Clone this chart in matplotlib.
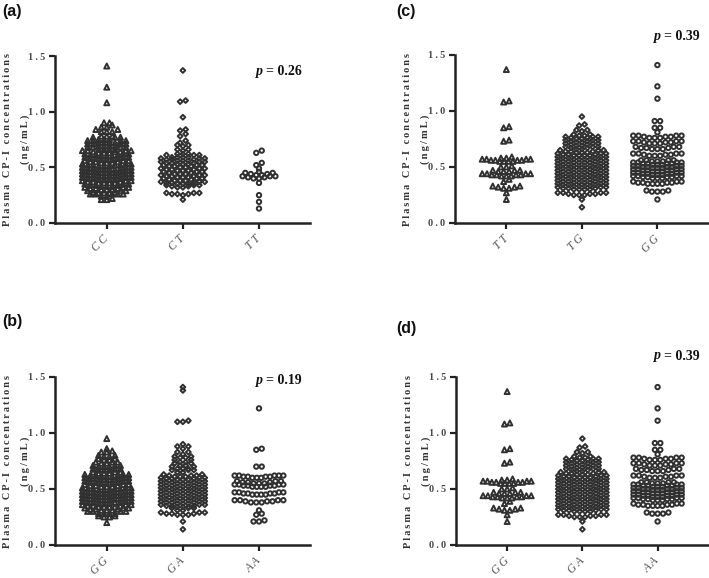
import numpy as np
import matplotlib
matplotlib.use('Agg')
import matplotlib.pyplot as plt

# ---- data (value levels and how many points sit at each) ----
a_labels = ['CC', 'CT', 'TT']
a_cc_vals = [0.21, 0.22, 0.24, 0.26, 0.27, 0.29,
             0.30, 0.31, 0.32, 0.33, 0.34, 0.35, 0.36, 0.37, 0.38, 0.39,
             0.40, 0.41, 0.42, 0.43, 0.44, 0.45, 0.46, 0.47, 0.48, 0.49,
             0.50, 0.51, 0.52, 0.53, 0.54, 0.55, 0.56, 0.57, 0.58, 0.59,
             0.60, 0.61, 0.62, 0.63, 0.64, 0.65, 0.66, 0.68, 0.69,
             0.71, 0.72, 0.74, 0.75, 0.77, 0.78, 0.82, 0.84, 0.86, 0.88,
             0.90, 1.08, 1.22, 1.41]
a_cc_counts = [2, 1, 2, 5, 5, 3,
               3, 3, 3, 3, 3, 3, 4, 3, 3, 4,
               3, 3, 4, 3, 3, 4, 3, 3, 4, 3,
               3, 3, 4, 3, 3, 3, 3, 3, 3, 3,
               3, 3, 3, 3, 3, 4, 4, 4, 4,
               4, 4, 4, 3, 3, 3, 3, 2, 2, 1,
               2, 1, 1, 1]
a_ct_vals = [0.21, 0.25, 0.26, 0.27, 0.32, 0.33, 0.34, 0.35, 0.36, 0.37,
             0.38, 0.39, 0.40, 0.41, 0.42, 0.43, 0.44, 0.45, 0.46, 0.47,
             0.48, 0.49, 0.50, 0.51, 0.52, 0.53, 0.54, 0.55, 0.56, 0.57,
             0.58, 0.59, 0.61, 0.62, 0.65, 0.66, 0.69, 0.70, 0.72, 0.74,
             0.78, 0.80, 0.83, 0.84, 0.95, 1.09, 1.10, 1.37]
a_ct_counts = [1, 1, 3, 3, 2, 2, 3, 3, 3, 3,
               3, 2, 3, 3, 3, 3, 3, 2, 3, 3,
               3, 3, 2, 3, 3, 3, 3, 3, 3, 3,
               3, 4, 3, 3, 1, 2, 1, 2, 1, 1,
               1, 1, 1, 1, 1, 1, 1, 1]
a_tt_vals = [0.13, 0.19, 0.25, 0.36, 0.40, 0.41, 0.42, 0.43, 0.44, 0.45,
             0.46, 0.49, 0.52, 0.54, 0.63, 0.65]
a_tt_counts = [1, 1, 1, 1, 2, 2, 3, 2, 2, 2,
               1, 1, 1, 1, 1, 1]

b_labels = ['GG', 'GA', 'AA']
b_gg_vals = [0.20, 0.25, 0.26, 0.28, 0.30, 0.31, 0.32, 0.33, 0.34, 0.35,
             0.36, 0.37, 0.38, 0.39, 0.40, 0.41, 0.42, 0.43, 0.44, 0.45,
             0.46, 0.47, 0.48, 0.49, 0.50, 0.51, 0.52, 0.53, 0.54, 0.55,
             0.56, 0.57, 0.58, 0.59, 0.60, 0.61, 0.62, 0.63, 0.64, 0.65,
             0.67, 0.68, 0.70, 0.71, 0.73, 0.74, 0.76, 0.77, 0.79, 0.80,
             0.83, 0.84, 0.86, 0.95]
b_gg_counts = [1, 2, 2, 4, 4, 3, 3, 3, 4, 3,
               3, 3, 4, 3, 3, 4, 3, 3, 4, 3,
               3, 4, 3, 3, 4, 3, 3, 3, 3, 3,
               3, 3, 3, 3, 3, 3, 3, 3, 3, 3,
               3, 3, 3, 3, 2, 3, 2, 2, 2, 2,
               2, 1, 1, 1]
b_ga_vals = [0.14, 0.21, 0.27, 0.28, 0.29, 0.31, 0.33, 0.34, 0.35, 0.36,
             0.37, 0.38, 0.39, 0.40, 0.41, 0.42, 0.43, 0.44, 0.45, 0.46,
             0.47, 0.48, 0.49, 0.50, 0.51, 0.52, 0.53, 0.54, 0.55, 0.56,
             0.57, 0.58, 0.59, 0.60, 0.61, 0.62, 0.63, 0.65, 0.67, 0.68,
             0.70, 0.71, 0.73, 0.74, 0.76, 0.78, 0.79, 0.81, 0.83, 0.86,
             0.88, 0.90, 1.10, 1.11, 1.38, 1.41]
b_ga_counts = [1, 1, 3, 3, 3, 2, 3, 3, 3, 3,
               3, 3, 3, 3, 3, 3, 3, 3, 3, 3,
               3, 3, 3, 3, 3, 3, 3, 3, 3, 3,
               3, 3, 3, 3, 3, 3, 2, 2, 3, 3,
               2, 2, 2, 2, 2, 2, 2, 1, 2, 1,
               2, 1, 2, 1, 1, 1]
b_aa_vals = [0.21, 0.22, 0.27, 0.28, 0.31, 0.38, 0.39, 0.40, 0.45, 0.46,
             0.47, 0.52, 0.53, 0.54, 0.55, 0.56, 0.57, 0.60, 0.61, 0.62,
             0.70, 0.85, 0.86, 1.22]
b_aa_counts = [2, 1, 1, 1, 1, 3, 3, 4, 4, 4,
               4, 4, 4, 4, 3, 3, 3, 3, 4, 5,
               2, 1, 1, 1]

c_labels = ['TT', 'TG', 'GG']
c_tt_vals = [0.21, 0.27, 0.31, 0.32, 0.33, 0.37, 0.39, 0.42, 0.43, 0.44,
             0.46, 0.47, 0.50, 0.51, 0.55, 0.56, 0.57, 0.58, 0.59, 0.73,
             0.74, 0.85, 0.86, 1.08, 1.09, 1.37]
c_tt_counts = [1, 1, 2, 2, 2, 1, 1, 3, 4, 4,
               3, 3, 2, 1, 4, 4, 4, 2, 1, 1,
               1, 1, 1, 1, 1, 1]
c_tg_vals = [0.14, 0.21, 0.25, 0.26, 0.27, 0.30, 0.31, 0.32, 0.33, 0.34,
             0.35, 0.36, 0.37, 0.38, 0.39, 0.40, 0.41, 0.42, 0.43, 0.44,
             0.45, 0.46, 0.47, 0.48, 0.49, 0.50, 0.51, 0.52, 0.53, 0.54,
             0.55, 0.56, 0.57, 0.58, 0.59, 0.60, 0.61, 0.62, 0.63, 0.64,
             0.65, 0.66, 0.67, 0.68, 0.69, 0.70, 0.71, 0.72, 0.73, 0.74,
             0.75, 0.76, 0.77, 0.78, 0.79, 0.82, 0.83, 0.87, 0.88, 0.95]
c_tg_counts = [1, 1, 3, 3, 4, 4, 3, 3, 4, 3,
               3, 4, 3, 3, 4, 3, 3, 4, 3, 3,
               4, 3, 3, 4, 3, 3, 4, 3, 3, 4,
               3, 3, 4, 3, 3, 4, 3, 3, 3, 3,
               3, 2, 2, 3, 2, 2, 3, 2, 2, 3,
               2, 2, 3, 2, 2, 1, 2, 1, 1, 1]
c_gg_vals = [0.21, 0.28, 0.29, 0.35, 0.36, 0.37, 0.40, 0.41, 0.42, 0.43,
             0.44, 0.45, 0.46, 0.47, 0.48, 0.49, 0.50, 0.51, 0.52, 0.53,
             0.54, 0.55, 0.56, 0.60, 0.61, 0.62, 0.66, 0.67, 0.68, 0.71,
             0.72, 0.73, 0.76, 0.77, 0.78, 0.81, 0.85, 0.91, 1.11, 1.22,
             1.41]
c_gg_counts = [1, 3, 2, 4, 4, 3, 3, 4, 4, 3,
               4, 4, 3, 4, 4, 3, 4, 4, 3, 4,
               4, 3, 4, 3, 3, 4, 3, 3, 3, 3,
               3, 4, 3, 3, 4, 1, 2, 2, 1, 1,
               1]

# panel (d) shows the same measurements as (c) under other genotype names
d_labels = ['GG', 'GA', 'AA']

p_values = {'a': '0.26', 'b': '0.19', 'c': '0.39', 'd': '0.39'}

SERIF = ['Liberation Serif', 'DejaVu Serif']
THIN = '\u2009'
EDGE = '#303030'
W, H = 709, 578


def spaced(s):
    return THIN.join(s)


def swarm(vals, counts, h=0.03, dx=0.072, max_span=0.64):
    v = np.sort(np.repeat(vals, counts).astype(float))
    xs, ys = [], []
    i = 0
    while i < len(v):
        j = i
        while j < len(v) and v[j] - v[i] < h - 1e-9:
            j += 1
        row = v[i:j]
        n = len(row)
        step = dx if (n - 1) * dx <= max_span else max_span / (n - 1)
        offs = (np.arange(n) - (n - 1) / 2) * step
        order = np.argsort(np.abs(offs), kind='stable')
        for k, idx in enumerate(order):
            xs.append(offs[idx])
            ys.append(row[k])
        i = j
    return np.array(xs), np.array(ys)


def rect(l, t, r, b):
    return [l / W, 1 - b / H, (r - l) / W, (b - t) / H]


def draw_panel(fig, box, groups, labels, letter, pval, p_xy, letter_xy):
    ax = fig.add_axes(rect(*box))
    markers = [('^', 13), ('D', 6), ('o', 10)]
    for pos, (vals, counts) in enumerate(groups):
        xs, ys = swarm(vals, counts)
        mk, size = markers[pos]
        ax.scatter(xs + pos, ys, marker=mk, s=size, facecolors='none',
                   edgecolors=EDGE, linewidths=1.4, clip_on=False, zorder=3)
    ax.set_xlim(-0.68, 2.67)
    ax.set_ylim(0, 1.5)
    for side in ('top', 'right'):
        ax.spines[side].set_visible(False)
    for side in ('left', 'bottom'):
        ax.spines[side].set_linewidth(1.8)
        ax.spines[side].set_color('#222222')
    ax.set_yticks([0, 0.5, 1.0, 1.5])
    ax.set_yticklabels([spaced('%.1f' % t) for t in [0, 0.5, 1.0, 1.5]],
                       family=SERIF, fontweight='bold', fontsize=7.5,
                       color='#4a4a4a')
    ax.set_xticks([0, 1, 2])
    ax.set_xticklabels([spaced(s) for s in labels], family=SERIF,
                       style='italic', fontsize=8.5, color='#555555',
                       rotation=45, ha='right', va='center',
                       rotation_mode='anchor')
    ax.tick_params(axis='both', direction='out', length=4, width=1.6,
                   color='#222222')
    ax.tick_params(axis='y', pad=3)
    ax.tick_params(axis='x', pad=6)

    ax.text(-0.188, 0.5, spaced('Plasma CP-I concentrations'),
            transform=ax.transAxes, rotation=90, ha='center', va='center',
            family=SERIF, fontweight='bold', fontsize=7.4, color='#333333')
    ax.text(-0.118, 0.5, spaced('(ng/mL)'), transform=ax.transAxes,
            rotation=90, ha='center', va='center', family=SERIF,
            fontweight='bold', fontsize=7.6, color='#333333')

    px, py = p_xy
    ax.text(px - 0.012, py, 'p', transform=ax.transAxes, ha='right',
            va='center', family=SERIF, fontweight='bold', style='italic',
            fontsize=10, color='#111111')
    ax.text(px, py, '= ' + pval, transform=ax.transAxes, ha='left',
            va='center', family=SERIF, fontweight='bold', fontsize=10,
            color='#111111')

    lx, ly = letter_xy
    fig.text(lx / W, 1 - ly / H, '(%s)' % letter, ha='left', va='top',
             family=['Liberation Sans', 'DejaVu Sans'], fontweight='bold',
             fontsize=11.5, color='#111111')
    return ax


fig = plt.figure(figsize=(W / 100, H / 100), dpi=100)

draw_panel(fig, (55, 56, 310, 223),
           [(a_cc_vals, a_cc_counts), (a_ct_vals, a_ct_counts),
            (a_tt_vals, a_tt_counts)],
           a_labels, 'a', p_values['a'], (0.827, 0.91), (2, 4))
draw_panel(fig, (455, 55, 708, 223),
           [(c_tt_vals, c_tt_counts), (c_tg_vals, c_tg_counts),
            (c_gg_vals, c_gg_counts)],
           c_labels, 'c', p_values['c'], (0.826, 1.113), (396, 4))
draw_panel(fig, (55, 377, 310, 545),
           [(b_gg_vals, b_gg_counts), (b_ga_vals, b_ga_counts),
            (b_aa_vals, b_aa_counts)],
           b_labels, 'b', p_values['b'], (0.827, 0.982), (2, 314))
draw_panel(fig, (456, 377, 708, 545),
           [(c_tt_vals, c_tt_counts), (c_tg_vals, c_tg_counts),
            (c_gg_vals, c_gg_counts)],
           d_labels, 'd', p_values['d'], (0.825, 1.125), (396, 321))

fig.savefig('out.png', dpi=100)
